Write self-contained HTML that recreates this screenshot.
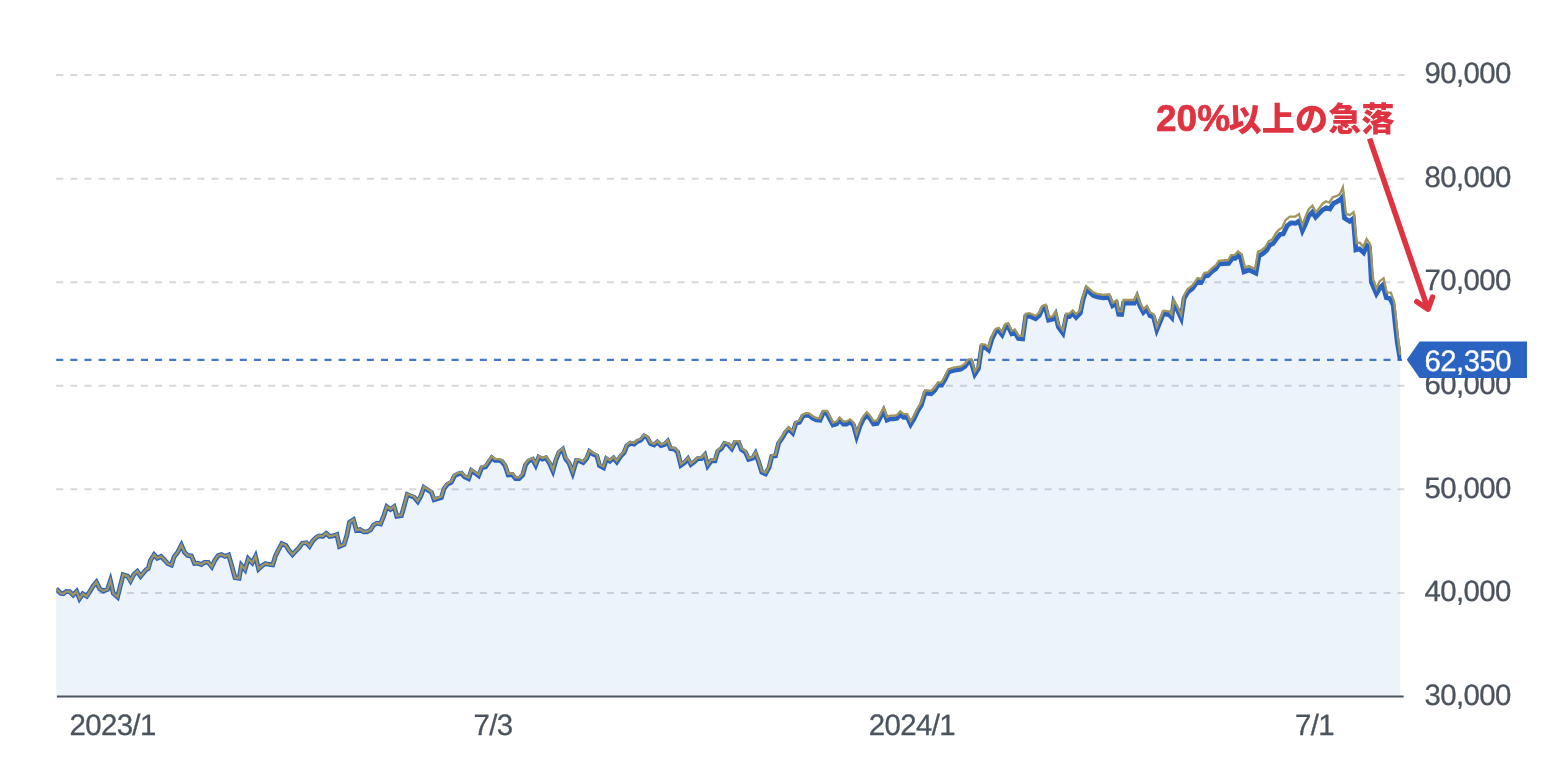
<!DOCTYPE html>
<html lang="ja">
<head>
<meta charset="utf-8">
<title>チャート</title>
<style>
html,body{margin:0;padding:0;background:#fff;}
body{width:1562px;height:770px;overflow:hidden;position:relative;font-family:"Liberation Sans","Noto Sans CJK JP",sans-serif;}
svg{position:absolute;left:0;top:0;display:block;}
.ax text{font-family:"Liberation Sans",sans-serif;font-size:29.4px;fill:#4a535e;stroke:#4a535e;stroke-width:0.3px;text-rendering:geometricPrecision;}
.grid line{stroke:#d7d8d9;stroke-width:2;stroke-dasharray:7.06 7.06;}
.note{font-family:"Liberation Sans","Noto Sans CJK JP",sans-serif;font-weight:bold;fill:#e03341;}
</style>
</head>
<body>
<svg width="1562" height="770" viewBox="0 0 1562 770">
<rect width="1562" height="770" fill="#ffffff"/>
<defs><clipPath id="plot"><rect x="56.2" y="0" width="1345" height="697"/></clipPath></defs>
<g class="grid">
<line x1="56.2" y1="75.06" x2="1404.4" y2="75.06"/>
<line x1="56.2" y1="178.63" x2="1404.4" y2="178.63"/>
<line x1="56.2" y1="282.20" x2="1404.4" y2="282.20"/>
<line x1="56.2" y1="385.77" x2="1404.4" y2="385.77"/>
<line x1="56.2" y1="489.34" x2="1404.4" y2="489.34"/>
<line x1="56.2" y1="592.91" x2="1404.4" y2="592.91"/>
</g>
<polygon points="56.2,588.8 60.7,593.3 63.3,593.8 66.2,591.4 69.5,591.6 73.1,595.0 76.6,591.3 79.5,598.6 82.8,593.8 86.7,596.3 90.0,591.2 93.2,586.0 96.4,582.1 99.7,588.8 103.2,591.0 107.5,589.4 110.4,580.6 113.3,593.3 117.5,597.0 120.3,586.0 123.1,574.8 127.6,576.1 130.5,580.9 133.8,574.5 137.3,571.3 140.6,576.2 146.1,569.6 148.2,568.6 150.5,560.5 154.1,554.7 157.3,558.2 160.9,556.4 164.5,560.0 167.7,563.6 171.4,565.1 174.1,556.8 177.7,552.3 181.4,545.1 184.5,552.3 187.7,555.5 191.4,555.9 194.5,563.5 197.7,563.2 201.4,564.5 204.5,562.3 208.2,562.3 211.8,566.8 215.0,560.0 218.2,555.5 221.4,554.5 225.0,556.4 228.6,554.9 231.8,565.9 235.0,577.7 239.1,578.3 241.4,565.2 245.0,569.6 248.2,558.7 252.3,562.9 255.5,556.4 258.6,569.0 262.3,565.5 265.5,563.6 269.1,564.5 272.7,564.9 275.5,555.9 278.6,549.5 281.8,543.6 285.9,545.5 289.1,550.5 292.5,554.6 295.9,550.9 299.1,547.7 302.3,543.2 306.4,542.7 309.5,546.2 312.7,540.9 315.9,537.7 319.1,535.9 322.7,536.4 326.2,533.4 329.5,536.4 333.2,535.9 336.8,534.5 339.5,546.4 344.1,544.5 346.8,535.5 349.5,522.3 353.5,519.7 356.4,530.3 360.0,529.5 363.6,531.8 366.8,531.8 370.5,530.0 373.6,525.0 376.8,523.2 380.5,524.0 383.6,516.4 386.8,506.6 390.5,509.4 394.1,506.7 396.8,516.2 401.4,515.5 404.1,506.4 407.3,494.5 410.5,495.9 414.1,497.3 417.7,501.6 420.9,495.9 423.9,487.4 427.7,490.0 431.4,492.3 434.1,499.8 437.7,498.6 441.4,497.5 444.1,488.6 447.7,484.1 451.4,482.3 454.5,475.9 457.7,474.1 461.4,473.2 464.5,476.8 468.6,478.7 471.4,470.6 474.5,472.7 478.6,475.8 481.8,467.7 485.5,466.8 488.6,462.3 491.8,457.7 495.0,460.3 498.6,460.3 501.8,461.4 505.0,465.5 508.2,474.9 512.3,474.5 515.5,478.6 519.1,478.6 522.7,475.0 525.5,465.0 528.6,460.9 532.7,459.3 535.7,465.1 538.8,457.2 542.3,459.1 545.9,457.8 549.5,463.2 552.9,470.9 555.9,460.0 559.1,452.3 562.7,449.4 565.5,458.6 569.1,463.2 572.7,472.9 576.4,460.6 579.5,460.9 583.2,462.6 586.8,458.2 589.5,451.5 593.2,454.1 596.8,455.9 599.5,465.5 603.6,467.7 606.4,458.9 609.8,461.3 613.5,458.0 616.8,462.0 620.5,456.4 624.1,452.7 626.8,445.9 630.5,443.2 634.1,444.1 637.3,441.4 640.9,440.0 644.1,436.0 647.3,437.7 650.5,443.6 654.1,445.0 657.3,442.0 660.9,445.5 664.5,444.5 667.7,441.3 670.5,448.6 674.5,449.1 677.7,452.3 680.9,465.2 684.5,462.7 687.9,458.8 690.9,464.5 694.5,461.8 697.7,458.6 701.4,458.6 704.8,454.8 707.7,465.7 711.4,460.5 715.0,460.8 717.7,451.4 721.4,448.6 724.5,443.6 728.2,444.5 731.8,448.7 735.0,442.3 738.6,442.3 741.4,449.5 745.5,452.3 748.6,459.4 752.7,458.2 755.5,453.4 758.6,461.8 761.8,472.3 765.5,473.9 769.1,467.3 771.8,456.4 775.5,455.9 778.6,443.2 782.7,437.3 785.5,432.3 788.6,428.9 792.7,433.1 795.9,423.2 799.5,422.3 802.7,416.4 805.9,415.0 809.1,415.3 812.7,418.2 816.4,420.0 820.0,420.3 823.1,413.0 826.8,413.1 829.9,419.1 833.0,425.0 836.6,424.0 839.7,419.9 843.4,424.0 846.5,424.0 850.1,421.9 853.5,425.1 856.6,436.5 860.0,426.1 863.1,419.4 866.8,415.1 869.9,418.3 873.5,424.0 877.1,423.5 880.3,417.3 883.6,410.8 887.0,420.1 890.1,418.8 893.2,418.8 896.9,418.3 900.2,414.5 903.6,417.3 907.3,417.3 910.6,424.4 914.0,418.8 917.7,411.0 921.3,405.3 924.9,393.4 928.1,393.4 931.2,393.7 934.8,390.3 937.9,385.1 941.6,385.1 945.2,378.8 948.5,371.9 954.5,370.1 960.8,369.1 964.9,366.5 968.1,362.3 971.2,361.9 974.8,374.2 978.4,368.6 981.6,347.0 985.2,347.3 988.6,350.1 991.9,339.0 995.6,331.7 998.7,330.6 1002.1,334.8 1005.5,326.5 1008.1,326.1 1011.7,333.6 1014.8,332.3 1018.4,338.4 1022.6,338.8 1025.7,316.6 1029.4,316.1 1035.6,318.7 1039.2,315.6 1042.3,308.8 1045.5,307.7 1048.6,320.1 1052.7,319.2 1055.5,314.5 1058.4,327.0 1062.9,333.1 1066.2,316.6 1069.4,316.6 1072.8,313.3 1076.1,317.3 1080.3,313.0 1082.9,300.0 1086.4,289.3 1093.2,295.4 1097.3,296.8 1103.1,297.8 1109.3,297.3 1112.6,305.7 1116.4,303.3 1118.7,314.2 1121.6,314.4 1123.6,303.1 1134.2,303.1 1137.0,296.9 1139.9,305.7 1143.4,312.4 1146.9,309.0 1150.0,315.6 1153.6,317.1 1156.8,329.9 1163.3,313.9 1169.0,314.5 1171.8,317.6 1173.7,302.9 1177.9,310.9 1181.2,318.1 1184.1,298.4 1187.7,292.2 1192.4,288.6 1197.6,281.3 1201.2,282.2 1204.4,276.1 1208.0,275.6 1212.1,271.4 1215.8,268.8 1218.9,264.2 1223.6,263.6 1228.6,263.4 1232.3,258.4 1235.1,258.4 1238.2,255.7 1240.6,257.7 1244.0,271.8 1248.9,269.9 1255.9,273.2 1259.0,255.6 1262.4,254.0 1266.6,250.4 1269.7,245.0 1273.0,243.5 1277.0,238.0 1280.1,234.4 1283.2,233.8 1287.3,225.5 1291.0,222.9 1295.6,223.2 1299.3,220.9 1302.4,230.7 1305.5,224.0 1308.6,216.2 1312.3,212.1 1315.6,217.2 1319.0,213.6 1322.7,209.9 1326.3,207.9 1329.9,208.9 1333.6,203.2 1337.2,201.6 1340.3,199.5 1342.4,197.1 1344.5,218.2 1349.7,221.4 1353.3,218.5 1355.9,249.8 1359.5,248.8 1363.7,252.7 1367.0,245.6 1369.5,247.5 1371.4,282.3 1376.4,293.7 1380.0,287.7 1382.7,285.1 1386.4,297.7 1390.0,298.5 1393.2,305.0 1395.0,322.3 1397.3,342.3 1400.3,360.0 1400.3,695.6 56.2,695.6" fill="#2c7ad3" fill-opacity="0.09"/>
<line x1="56.2" y1="359.95" x2="1402" y2="359.95" stroke="#4078cc" stroke-width="2.2" stroke-dasharray="7.06 7.06"/>
<g clip-path="url(#plot)">
<polyline points="56.2,588.8 60.7,593.3 63.3,593.8 66.2,591.4 69.5,591.6 73.1,595.0 76.6,591.3 79.5,598.6 82.8,593.8 86.7,596.3 90.0,591.2 93.2,586.0 96.4,582.1 99.7,588.8 103.2,591.0 107.5,589.4 110.4,580.6 113.3,593.3 117.5,597.0 120.3,586.0 123.1,574.8 127.6,576.1 130.5,580.9 133.8,574.5 137.3,571.3 140.6,576.2 146.1,569.6 148.2,568.6 150.5,560.5 154.1,554.7 157.3,558.2 160.9,556.4 164.5,560.0 167.7,563.6 171.4,565.1 174.1,556.8 177.7,552.3 181.4,545.1 184.5,552.3 187.7,555.5 191.4,555.9 194.5,563.5 197.7,563.2 201.4,564.5 204.5,562.3 208.2,562.3 211.8,566.8 215.0,560.0 218.2,555.5 221.4,554.5 225.0,556.4 228.6,554.9 231.8,565.9 235.0,577.7 239.1,578.3 241.4,565.2 245.0,569.6 248.2,558.7 252.3,562.9 255.5,556.4 258.6,569.0 262.3,565.5 265.5,563.6 269.1,564.5 272.7,564.9 275.5,555.9 278.6,549.5 281.8,543.6 285.9,545.5 289.1,550.5 292.5,554.6 295.9,550.9 299.1,547.7 302.3,543.2 306.4,542.7 309.5,546.2 312.7,540.9 315.9,537.7 319.1,535.9 322.7,536.4 326.2,533.4 329.5,536.4 333.2,535.9 336.8,534.5 339.5,546.4 344.1,544.5 346.8,535.5 349.5,522.3 353.5,519.7 356.4,530.3 360.0,529.5 363.6,531.8 366.8,531.8 370.5,530.0 373.6,525.0 376.8,523.2 380.5,524.0 383.6,516.4 386.8,506.6 390.5,509.4 394.1,506.7 396.8,516.2 401.4,515.5 404.1,506.4 407.3,494.5 410.5,495.9 414.1,497.3 417.7,501.6 420.9,495.9 423.9,487.4 427.7,490.0 431.4,492.3 434.1,499.8 437.7,498.6 441.4,497.5 444.1,488.6 447.7,484.1 451.4,482.3 454.5,475.9 457.7,474.1 461.4,473.2 464.5,476.8 468.6,478.7 471.4,470.6 474.5,472.7 478.6,475.8 481.8,467.7 485.5,466.8 488.6,462.3 491.8,457.7 495.0,460.3 498.6,460.3 501.8,461.4 505.0,465.5 508.2,474.9 512.3,474.5 515.5,478.6 519.1,478.6 522.7,475.0 525.5,465.0 528.6,460.9 532.7,459.3 535.7,465.1 538.8,457.2 542.3,459.1 545.9,457.8 549.5,463.2 552.9,470.9 555.9,460.0 559.1,452.3 562.7,449.4 565.5,458.6 569.1,463.2 572.7,472.9 576.4,460.6 579.5,460.9 583.2,462.6 586.8,458.2 589.5,451.5 593.2,454.1 596.8,455.9 599.5,465.5 603.6,467.7 606.4,458.9 609.8,461.3 613.5,458.0 616.8,462.0 620.5,456.4 624.1,452.7 626.8,445.9 630.5,443.2 634.1,444.1 637.3,441.4 640.9,440.0 644.1,436.0 647.3,437.7 650.5,443.6 654.1,445.0 657.3,442.0 660.9,445.5 664.5,444.5 667.7,441.3 670.5,448.6 674.5,449.1 677.7,452.3 680.9,465.2 684.5,462.7 687.9,458.8 690.9,464.5 694.5,461.8 697.7,458.6 701.4,458.6 704.8,454.8 707.7,465.7 711.4,460.5 715.0,460.8 717.7,451.4 721.4,448.6 724.5,443.6 728.2,444.5 731.8,448.7 735.0,442.3 738.6,442.3 741.4,449.5 745.5,452.3 748.6,459.4 752.7,458.2 755.5,453.4 758.6,461.8 761.8,472.3 765.5,473.9 769.1,467.3 771.8,456.4 775.5,455.9 778.6,443.2 782.7,437.3 785.5,432.3 788.6,428.9 792.7,433.1 795.9,423.2 799.5,422.3 802.7,416.4 805.9,415.0 809.1,415.3 812.7,418.2 816.4,420.0 820.0,420.3 823.1,413.0 826.8,413.1 829.9,419.1 833.0,425.0 836.6,424.0 839.7,419.9 843.4,424.0 846.5,424.0 850.1,421.9 853.5,425.1 856.6,436.5 860.0,426.1 863.1,419.4 866.8,415.1 869.9,418.3 873.5,424.0 877.1,423.5 880.3,417.3 883.6,410.8 887.0,420.1 890.1,418.8 893.2,418.8 896.9,418.3 900.2,414.5 903.6,417.3 907.3,417.3 910.6,424.4 914.0,418.8 917.7,411.0 921.3,405.3 924.9,393.4 928.1,393.4 931.2,393.7 934.8,390.3 937.9,385.1 941.6,385.1 945.2,378.8 948.5,371.9 954.5,370.1 960.8,369.1 964.9,366.5 968.1,362.3 971.2,361.9 974.8,374.2 978.4,368.6 981.6,347.0 985.2,347.3 988.6,350.1 991.9,339.0 995.6,331.7 998.7,330.6 1002.1,334.8 1005.5,326.5 1008.1,326.1 1011.7,333.6 1014.8,332.3 1018.4,338.4 1022.6,338.8 1025.7,316.6 1029.4,316.1 1035.6,318.7 1039.2,315.6 1042.3,308.8 1045.5,307.7 1048.6,320.1 1052.7,319.2 1055.5,314.5 1058.4,327.0 1062.9,333.1 1066.2,316.6 1069.4,316.6 1072.8,313.3 1076.1,317.3 1080.3,313.0 1082.9,300.0 1086.4,289.3 1093.2,295.4 1097.3,296.8 1103.1,297.8 1109.3,297.3 1112.6,305.7 1116.4,303.3 1118.7,314.2 1121.6,314.4 1123.6,303.1 1134.2,303.1 1137.0,296.9 1139.9,305.7 1143.4,312.4 1146.9,309.0 1150.0,315.6 1153.6,317.1 1156.8,329.9 1163.3,313.9 1169.0,314.5 1171.8,317.6 1173.7,302.9 1177.9,310.9 1181.2,318.1 1184.1,298.4 1187.7,292.2 1192.4,288.6 1197.6,281.3 1201.2,282.2 1204.4,276.1 1208.0,275.6 1212.1,271.4 1215.8,268.8 1218.9,264.2 1223.6,263.6 1228.6,263.4 1232.3,258.4 1235.1,258.4 1238.2,255.7 1240.6,257.7 1244.0,271.8 1248.9,269.9 1255.9,273.2 1259.0,255.6 1262.4,254.0 1266.6,250.4 1269.7,245.0 1273.0,243.5 1277.0,238.0 1280.1,234.4 1283.2,233.8 1287.3,225.5 1291.0,222.9 1295.6,223.2 1299.3,220.9 1302.4,230.7 1305.5,224.0 1308.6,216.2 1312.3,212.1 1315.6,217.2 1319.0,213.6 1322.7,209.9 1326.3,207.9 1329.9,208.9 1333.6,203.2 1337.2,201.6 1340.3,199.5 1342.4,197.1 1344.5,218.2 1349.7,221.4 1353.3,218.5 1355.9,249.8 1359.5,248.8 1363.7,252.7 1367.0,245.6 1369.5,247.5 1371.4,282.3 1376.4,293.7 1380.0,287.7 1382.7,285.1 1386.4,297.7 1390.0,298.5 1393.2,305.0 1395.0,322.3 1397.3,342.3 1400.3,360.0" fill="none" stroke="#2b63c1" stroke-width="4.8" stroke-linejoin="miter" stroke-miterlimit="10"/>
<polyline points="56.2,588.8 60.7,593.3 63.3,593.8 66.2,591.4 69.5,591.6 73.1,595.0 76.6,591.3 79.5,598.6 82.8,593.8 86.7,596.3 90.0,591.2 93.2,586.0 96.4,582.1 99.7,588.8 103.2,591.0 107.5,589.4 110.4,580.6 113.3,593.3 117.5,597.0 120.3,586.0 123.1,574.8 127.6,576.1 130.5,580.9 133.8,574.5 137.3,571.2 140.6,576.1 146.1,569.5 148.2,568.5 150.5,560.4 154.1,554.6 157.3,558.1 160.9,556.3 164.5,559.9 167.7,563.5 171.4,565.0 174.1,556.7 177.7,552.2 181.4,545.0 184.5,552.2 187.7,555.4 191.4,555.8 194.5,563.4 197.7,563.1 201.4,564.4 204.5,562.2 208.2,562.2 211.8,566.7 215.0,559.9 218.2,555.4 221.4,554.4 225.0,556.3 228.6,554.8 231.8,565.8 235.0,577.6 239.1,578.2 241.4,565.1 245.0,569.5 248.2,558.6 252.3,562.8 255.5,556.3 258.6,568.9 262.3,565.4 265.5,563.5 269.1,564.4 272.7,564.8 275.5,555.8 278.6,549.4 281.8,543.5 285.9,545.4 289.1,550.4 292.5,554.5 295.9,550.8 299.1,547.5 302.3,543.0 306.4,542.5 309.5,546.0 312.7,540.7 315.9,537.5 319.1,535.7 322.7,536.2 326.2,533.2 329.5,536.2 333.2,535.7 336.8,534.3 339.5,546.2 344.1,544.3 346.8,535.3 349.5,522.1 353.5,519.5 356.4,530.1 360.0,529.3 363.6,531.6 366.8,531.6 370.5,529.8 373.6,524.8 376.8,523.0 380.5,523.8 383.6,516.2 386.8,506.3 390.5,509.1 394.1,506.3 396.8,515.8 401.4,515.1 404.1,505.9 407.3,494.0 410.5,495.3 414.1,496.7 417.7,501.0 420.9,495.2 423.9,486.7 427.7,489.2 431.4,491.5 434.1,499.0 437.7,497.7 441.4,496.6 444.1,487.7 447.7,483.2 451.4,481.3 454.5,474.9 457.7,473.1 461.4,472.2 464.5,475.8 468.6,477.6 471.4,469.5 474.5,471.6 478.6,474.7 481.8,466.6 485.5,465.7 488.6,461.1 491.8,456.5 495.0,459.1 498.6,459.1 501.8,460.2 505.0,464.3 508.2,473.7 512.3,473.3 515.5,477.4 519.1,477.4 522.7,473.8 525.5,463.8 528.6,459.7 532.7,458.1 535.7,463.9 538.8,456.0 542.3,457.9 545.9,456.6 549.5,462.1 552.9,469.8 555.9,458.9 559.1,451.2 562.7,448.3 565.5,457.5 569.1,462.1 572.7,471.8 576.4,459.5 579.5,459.8 583.2,461.5 586.8,457.1 589.5,450.4 593.2,453.0 596.8,454.8 599.5,464.4 603.6,466.6 606.4,457.8 609.8,460.2 613.5,456.9 616.8,460.9 620.5,455.3 624.1,451.6 626.8,444.8 630.5,442.1 634.1,443.0 637.3,440.3 640.9,438.9 644.1,434.9 647.3,436.6 650.5,442.6 654.1,444.0 657.3,441.0 660.9,444.5 664.5,443.5 667.7,440.3 670.5,447.6 674.5,448.1 677.7,451.3 680.9,464.2 684.5,461.7 687.9,457.8 690.9,463.5 694.5,460.8 697.7,457.6 701.4,457.6 704.8,453.8 707.7,464.7 711.4,459.5 715.0,459.7 717.7,450.3 721.4,447.5 724.5,442.5 728.2,443.4 731.8,447.6 735.0,441.2 738.6,441.2 741.4,448.3 745.5,451.1 748.6,458.2 752.7,457.0 755.5,452.2 758.6,460.6 761.8,471.1 765.5,472.7 769.1,466.0 771.8,455.1 775.5,454.6 778.6,441.9 782.7,435.9 785.5,430.9 788.6,427.4 792.7,431.5 795.9,421.6 799.5,420.6 802.7,414.6 805.9,413.2 809.1,413.4 812.7,416.2 816.4,418.0 820.0,418.2 823.1,410.8 826.8,410.9 829.9,416.8 833.0,422.7 836.6,421.6 839.7,417.5 843.4,421.5 846.5,421.4 850.1,419.3 853.5,422.4 856.6,433.8 860.0,423.3 863.1,416.6 866.8,412.2 869.9,415.4 873.5,421.0 877.1,420.5 880.3,414.2 883.6,407.7 887.0,416.9 890.1,415.6 893.2,415.6 896.9,415.2 900.2,411.4 903.6,414.2 907.3,414.2 910.6,421.4 914.0,415.8 917.7,408.0 921.3,402.3 924.9,390.5 928.1,390.5 931.2,390.8 934.8,387.4 937.9,382.3 941.6,382.3 945.2,376.0 948.5,369.1 954.5,367.4 960.8,366.4 964.9,363.8 968.1,359.6 971.2,359.2 974.8,371.5 978.4,365.9 981.6,344.2 985.2,344.5 988.6,347.3 991.9,336.2 995.6,328.9 998.7,327.8 1002.1,332.0 1005.5,323.7 1008.1,323.3 1011.7,330.8 1014.8,329.5 1018.4,335.6 1022.6,336.0 1025.7,313.8 1029.4,313.2 1035.6,315.8 1039.2,312.7 1042.3,305.9 1045.5,304.8 1048.6,317.2 1052.7,316.3 1055.5,311.6 1058.4,324.1 1062.9,330.2 1066.2,313.7 1069.4,313.7 1072.8,310.4 1076.1,314.3 1080.3,310.0 1082.9,297.0 1086.4,286.3 1093.2,292.4 1097.3,293.8 1103.1,294.8 1109.3,294.3 1112.6,302.7 1116.4,300.3 1118.7,311.2 1121.6,311.3 1123.6,300.0 1134.2,300.0 1137.0,293.8 1139.9,302.6 1143.4,309.3 1146.9,305.9 1150.0,312.5 1153.6,314.0 1156.8,326.8 1163.3,310.7 1169.0,311.3 1171.8,314.4 1173.7,299.7 1177.9,307.7 1181.2,314.9 1184.1,295.2 1187.7,289.0 1192.4,285.4 1197.6,278.1 1201.2,279.0 1204.4,272.8 1208.0,272.3 1212.1,268.1 1215.8,265.5 1218.9,260.9 1223.6,260.3 1225.0,260.1 1228.1,260.0 1231.2,255.1 1234.9,254.8 1238.0,251.3 1241.8,254.5 1245.0,267.5 1248.9,266.0 1255.1,269.1 1258.0,251.6 1261.6,250.2 1265.5,246.8 1268.6,241.3 1272.3,239.3 1275.9,233.3 1279.0,229.7 1282.1,227.8 1285.8,219.8 1289.9,216.7 1295.1,216.7 1299.0,214.1 1302.4,225.0 1305.5,216.7 1308.6,209.4 1312.5,205.6 1315.9,212.2 1319.0,208.4 1322.7,203.7 1326.0,201.4 1329.4,202.7 1332.5,197.5 1336.2,196.2 1339.8,194.4 1342.9,187.1 1346.0,213.6 1349.7,215.1 1353.6,212.2 1356.6,243.2 1359.8,242.7 1363.2,246.8 1366.6,239.0 1370.2,244.6 1373.2,279.5 1376.4,288.6 1379.5,281.4 1383.6,278.2 1386.8,292.3 1390.8,292.5 1394.1,301.4 1395.4,313.2 1397.7,335.9 1400.2,355.0" fill="none" stroke="#a0955c" stroke-width="2.3" stroke-linejoin="miter" stroke-miterlimit="10"/>
</g>
<line x1="56.9" y1="696.5" x2="1403.6" y2="696.5" stroke="#4a5360" stroke-width="2.2"/>
<g class="ax">
<text x="1424.4" y="83.3" letter-spacing="-0.6">90,000</text>
<text x="1424.4" y="186.8" letter-spacing="-0.6">80,000</text>
<text x="1424.4" y="290.4" letter-spacing="-0.6">70,000</text>
<text x="1424.4" y="394.0" letter-spacing="-0.6">60,000</text>
<text x="1424.4" y="497.5" letter-spacing="-0.6">50,000</text>
<text x="1424.4" y="601.1" letter-spacing="-0.6">40,000</text>
<text x="1424.4" y="704.7" letter-spacing="-0.6">30,000</text>
<text x="69.4" y="735.4" letter-spacing="-0.6">2023/1</text>
<text x="473.4" y="735.4" letter-spacing="-0.6">7/3</text>
<text x="868.8" y="735.4" letter-spacing="-0.6">2024/1</text>
<text x="1294.9" y="735.4" letter-spacing="-0.6">7/1</text>
</g>
<polygon points="1406.8,359.7 1419.6,341.4 1527,341.4 1527,378 1419.6,378" fill="#2b63c1"/>
<text x="1424.6" y="370.5" letter-spacing="-0.6" font-family="Liberation Sans, sans-serif" font-size="29.4" fill="#ffffff" stroke="#ffffff" stroke-width="0.3" text-rendering="geometricPrecision">62,350</text>
<text class="note" x="1156" y="131.3" font-size="37" stroke="#e03341" stroke-width="0.7" stroke-linejoin="round">20%</text>
<text class="note" x="1228.6" y="131.2" font-size="33" style="font-weight:900" letter-spacing="0.25">以上の急落</text>
<g fill="none" stroke="#e03341" stroke-width="5.5">
<line x1="1369.6" y1="138.6" x2="1428" y2="309.2"/>
<polyline points="1416.8,301.7 1428,309.2 1432.5,297.1" stroke-linecap="round" stroke-linejoin="round"/>
</g>
</svg>
</body>
</html>
